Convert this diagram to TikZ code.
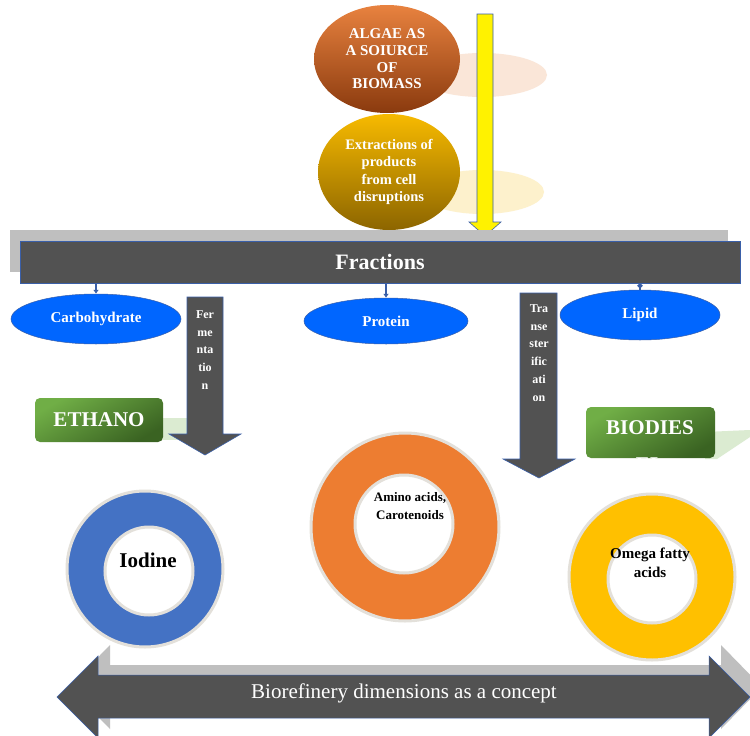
\documentclass[tikz,border=0pt]{standalone}
\usepackage{fontspec}
\setmainfont{Liberation Serif}
\usepackage{tikz}
\usetikzlibrary{shapes.geometric}
\usetikzlibrary{arrows.meta}
\definecolor{bargray}{HTML}{525252}
\definecolor{shadowgray}{HTML}{BFBFBF}
\definecolor{edgeblue}{HTML}{3A5FA8}
\definecolor{fracblue}{HTML}{0066FF}
\definecolor{algaelight}{HTML}{E8823F}
\definecolor{algaedark}{HTML}{8A3A0E}
\definecolor{goldlight}{HTML}{F7BA00}
\definecolor{golddark}{HTML}{8C6500}
\definecolor{greenlight}{HTML}{70AE46}
\definecolor{greendark}{HTML}{3A6322}
\definecolor{ringblue}{HTML}{4472C4}
\definecolor{ringorange}{HTML}{ED7D31}
\definecolor{ringyellow}{HTML}{FFC000}
\definecolor{ringedge}{HTML}{E3E0DA}

\begin{document}
\begin{tikzpicture}[x=1pt, y=-1pt,
    bubble/.style={ellipse, inner sep=0pt, text=white, align=center, shading angle=30},
    fraction/.style={ellipse, inner sep=0pt, fill=fracblue, draw=edgeblue, line width=0.5pt, text=white, font=\bfseries\fontsize{15}{17}\selectfont},
    link/.style={draw=edgeblue, line width=2pt, -{Latex[length=4pt,width=6pt]}},
    blockarrow/.style={fill=bargray, draw=edgeblue, line width=0.6pt},
    stepword/.style={text=white, align=center, font=\bfseries\fontsize{12}{17.8}\selectfont},
    product/.style={rounded corners=5pt, text=white, font=\bfseries\fontsize{21}{24}\selectfont, top color=greenlight, bottom color=greendark, shading angle=30},
    ringtext/.style={align=center, font=\bfseries\fontsize{13}{18}\selectfont}
  ]
  \useasboundingbox (0,0) rectangle (750,736);
  \fill[white] (0,0) rectangle (750,736);

  % source and extraction
  \fill[algaelight!20] (482,75) ellipse (65 and 22);
  \fill[goldlight!20] (482,192) ellipse (62 and 22);
  \node[bubble, minimum width=146pt, minimum height=108pt, top color=algaelight, bottom color=algaedark,
        font=\bfseries\fontsize{15}{16.7}\selectfont] (algae) at (387,59) {ALGAE AS\\A SOIURCE\\OF\\BIOMASS};
  \node[bubble, minimum width=142pt, minimum height=116pt, top color=goldlight, bottom color=golddark,
        font=\bfseries\fontsize{14.5}{17.3}\selectfont] (extract) at (389,172) {Extractions of\\products\\from cell\\disruptions};
  \draw[fill=yellow, draw=edgeblue, line width=0.6pt] (477,14) -- (493,14) -- (493,222) -- (501,222) -- (485,236) -- (469,222) -- (477,222) -- cycle;

  % fractions bar
  \fill[shadowgray] (10,230) rectangle (728,272);
  \node[fill=bargray, draw=edgeblue, line width=0.6pt, minimum width=720pt, minimum height=42pt, text=white,
        font=\bfseries\fontsize{22}{24}\selectfont] (fractions) at (380,262) {Fractions};

  \node[fraction, minimum width=170pt, minimum height=50pt] (carb) at (96,319) {Carbohydrate};
  \node[fraction, minimum width=164pt, minimum height=46pt] (protein) at (386,321) {Protein};
  \node[fraction, minimum width=160pt, minimum height=50pt] (lipid) at (640,315) {Lipid};
  \draw[link] (fractions.south -| carb.north) -- (carb.north);
  \draw[link] (fractions.south -| protein.north) -- (protein.north);
  \draw[draw=edgeblue, line width=2pt, {Circle[length=5pt]}-] (fractions.south -| lipid.north) -- (lipid.north);

  % process arrows
  \fill[greenlight!25] (150,418) rectangle (200,440);
  \fill[greenlight!25] (705,432) -- (750,430) -- (750,437) -- (717,459) -- (705,459) -- cycle;
  \draw[blockarrow] (187,297) -- (223,297) -- (223,434) -- (241,434) -- (205,455) -- (169,434) -- (187,434) -- cycle;
  \node[stepword] (ferm) at (205,350) {Fer\\me\\nta\\tio\\n};
  \draw[blockarrow] (520,293) -- (557,293) -- (557,459) -- (575,459) -- (539,478) -- (503,459) -- (520,459) -- cycle;
  \node[stepword] (trans) at (539,353) {Tra\\nse\\ster\\ific\\ati\\on};

  \node[product, minimum width=128pt, minimum height=44pt] (ethanol) at (99,420) {ETHANO};
  \node[product, minimum width=129pt, minimum height=51pt] (biodiesel) at (650.5,432.5) {};
  \begin{scope}
    \clip (586,407) rectangle (715,458);
    \node[text=white, font=\bfseries\fontsize{21}{24}\selectfont] (biotop) at (650,428) {BIODIES};
    \node[text=white, font=\bfseries\fontsize{21}{24}\selectfont] (biobottom) at (650,465) {EL};
  \end{scope}

  % rings
  \foreach \cx/\cy/\ro/\ix/\iy/\ri/\col in {145/569/78/149/571/44/ringblue, 405/527/94/404/524/49/ringorange, 652/577/83/652/579/44/ringyellow}{
    \fill[\col, even odd rule] (\cx,\cy) circle (\ro) (\ix,\iy) circle (\ri);
    \draw[ringedge, line width=3pt] (\cx,\cy) circle (\ro);
    \draw[ringedge, line width=3pt] (\ix,\iy) circle (\ri);
  }
  \node[ringtext, font=\bfseries\fontsize{21}{22}\selectfont] (iodine) at (148,560) {Iodine};
  \node[ringtext] (amino) at (410,506) {Amino acids,\\Carotenoids};
  \node[ringtext, font=\bfseries\fontsize{15}{19}\selectfont] (omega) at (650,563) {Omega fatty\\acids};

  % concept arrow
  \fill[shadowgray] (69,687) -- (110,645) -- (110,665) -- (721,665) -- (721,645) -- (762,687) -- (721,729) -- (721,708) -- (110,708) -- (110,729) -- cycle;
  \draw[fill=bargray, draw=edgeblue, line width=0.5pt] (57,697) -- (98,656) -- (98,675) -- (709,675) -- (709,656) -- (750,697) -- (709,738) -- (709,718) -- (98,718) -- (98,738) -- cycle;
  \node[text=white, font=\fontsize{21}{22}\selectfont] (concept) at (404,693) {Biorefinery dimensions as a concept};
\end{tikzpicture}
\end{document}
